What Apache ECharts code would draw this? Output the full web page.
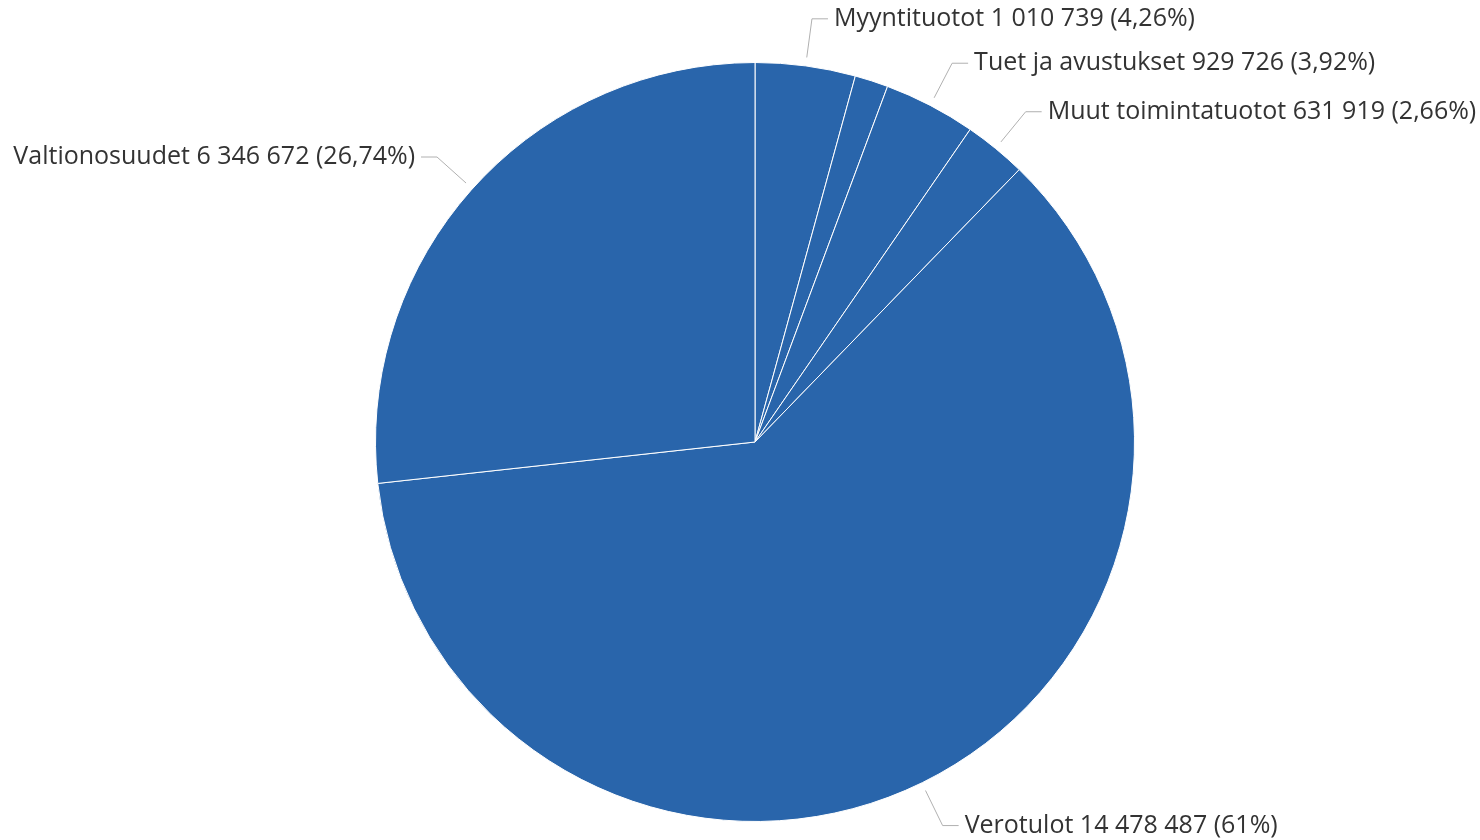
<!DOCTYPE html>
<html>
<head>
<meta charset="utf-8">
<script src="https://cdn.jsdelivr.net/npm/echarts@6/dist/echarts.min.js"></script>
<style>
html,body{margin:0;padding:0;background:#fff;}
#chart{width:1480px;height:840px;}
</style>
</head>
<body>
<div id="chart"></div>
<script>
const categories = ['Myyntituotot', 'Maksutuotot', 'Tuet ja avustukset', 'Muut toimintatuotot', 'Verotulot', 'Valtionosuudet'];
const values = [1010739, 337000, 929726, 631919, 14478487, 6346672];
const showLabel = [true, false, true, true, true, true];

const total = values.reduce((a, b) => a + b, 0);
function fmtNum(v) {
  return String(v).replace(/\B(?=(\d{3})+(?!\d))/g, ' ');
}
function fmtPct(v) {
  let s = (v / total * 100).toFixed(2);
  s = s.replace(/\.?0+$/, '');
  return s.replace('.', ',');
}

const pieData = categories.map((c, i) => ({ name: c, value: values[i] }));
const labelData = categories.map((c, i) => ({
  name: c, value: values[i],
  label: { show: showLabel[i] },
  labelLine: { show: showLabel[i] }
}));

const chart = echarts.init(document.getElementById('chart'), null, { renderer: 'canvas' });
chart.setOption({
  animation: false,
  series: [
    {
      type: 'pie',
      center: [755, 442],
      radius: 379.5,
      startAngle: 90,
      clockwise: true,
      silent: true,
      data: pieData,
      itemStyle: { color: '#2965AB', borderColor: '#ffffff', borderWidth: 1 },
      label: { show: false },
      labelLine: { show: false }
    },
    {
      type: 'pie',
      center: [755, 442],
      radius: 388,
      startAngle: 90,
      clockwise: true,
      silent: true,
      avoidLabelOverlap: false,
      data: labelData,
      itemStyle: { color: 'rgba(0,0,0,0)', borderWidth: 0 },
      label: {
        show: true,
        position: 'outside',
        color: '#333333',
        fontFamily: 'Open Sans',
        fontSize: 25,
        padding: [5, 0, 0, 0],
        distanceToLabelLine: 6,
        formatter: p => p.name + ' ' + fmtNum(p.value) + ' (' + fmtPct(p.value) + '%)'
      },
      labelLine: {
        show: true,
        length: 39,
        length2: 16,
        lineStyle: { color: '#b0b0b0', width: 1 }
      }
    }
  ]
});
</script>
</body>
</html>
